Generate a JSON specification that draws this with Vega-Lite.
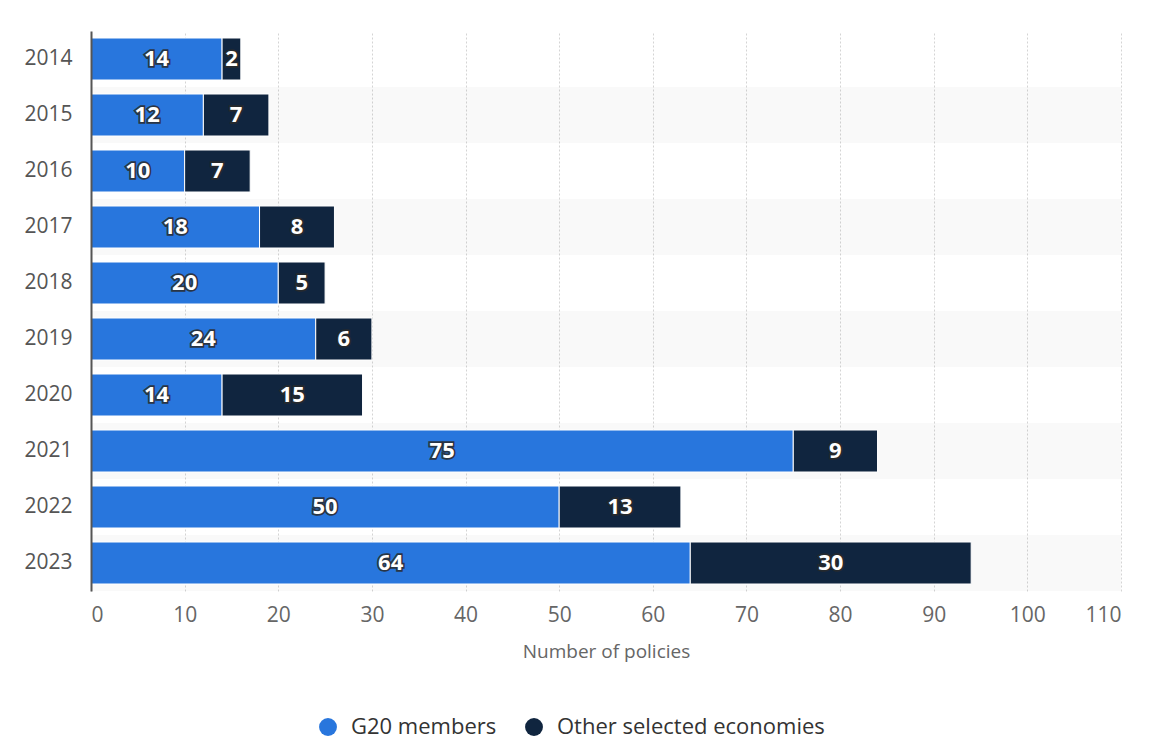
{
  "$schema": "https://vega.github.io/schema/vega-lite/v6.json",
  "width": 1030,
  "height": 560,
  "padding": {"left": 23, "top": 31, "right": 10, "bottom": 6},
  "background": "white",
  "config": {
    "font": "Open Sans",
    "view": {"stroke": null},
    "axis": {"labelColor": "#666", "labelFont": "Open Sans", "titleFont": "Open Sans"}
  },
  "datasets": {
    "policies": [
      {"year": "2014", "group": "G20 members", "ord": 1, "value": 14},
      {"year": "2014", "group": "Other selected economies", "ord": 2, "value": 2},
      {"year": "2015", "group": "G20 members", "ord": 1, "value": 12},
      {"year": "2015", "group": "Other selected economies", "ord": 2, "value": 7},
      {"year": "2016", "group": "G20 members", "ord": 1, "value": 10},
      {"year": "2016", "group": "Other selected economies", "ord": 2, "value": 7},
      {"year": "2017", "group": "G20 members", "ord": 1, "value": 18},
      {"year": "2017", "group": "Other selected economies", "ord": 2, "value": 8},
      {"year": "2018", "group": "G20 members", "ord": 1, "value": 20},
      {"year": "2018", "group": "Other selected economies", "ord": 2, "value": 5},
      {"year": "2019", "group": "G20 members", "ord": 1, "value": 24},
      {"year": "2019", "group": "Other selected economies", "ord": 2, "value": 6},
      {"year": "2020", "group": "G20 members", "ord": 1, "value": 14},
      {"year": "2020", "group": "Other selected economies", "ord": 2, "value": 15},
      {"year": "2021", "group": "G20 members", "ord": 1, "value": 75},
      {"year": "2021", "group": "Other selected economies", "ord": 2, "value": 9},
      {"year": "2022", "group": "G20 members", "ord": 1, "value": 50},
      {"year": "2022", "group": "Other selected economies", "ord": 2, "value": 13},
      {"year": "2023", "group": "G20 members", "ord": 1, "value": 64},
      {"year": "2023", "group": "Other selected economies", "ord": 2, "value": 30}
    ],
    "bands": [
      {"year": "2015"}, {"year": "2017"}, {"year": "2019"}, {"year": "2021"}, {"year": "2023"}
    ]
  },
  "encoding": {
    "y": {
      "field": "year",
      "type": "nominal",
      "sort": null,
      "scale": {"domain": ["2014","2015","2016","2017","2018","2019","2020","2021","2022","2023"], "paddingInner": 0, "paddingOuter": 0},
      "axis": {
        "title": null,
        "ticks": false,
        "labelPadding": 19,
        "labelFontSize": 21,
        "labelColor": "#555",
        "domain": true,
        "domainColor": "#555",
        "domainWidth": 2,
        "zindex": 1
      }
    }
  },
  "layer": [
    {
      "data": {"name": "bands"},
      "mark": {"type": "rect", "fill": "#000", "opacity": 0.025},
      "encoding": {
        "x": {"datum": 0, "type": "quantitative", "scale": {"domain": [0, 110]}},
        "x2": {"datum": 110}
      }
    },
    {
      "data": {"name": "policies"},
      "mark": {"type": "bar", "height": {"band": 0.75}, "stroke": "white", "strokeWidth": 1},
      "encoding": {
        "x": {
          "field": "value",
          "type": "quantitative",
          "stack": "zero",
          "scale": {"domain": [0, 110], "nice": false},
          "axis": {
            "values": [0,10,20,30,40,50,60,70,80,90,100,110],
            "title": "Number of policies",
            "titleFontSize": 19,
            "titleFontWeight": "normal",
            "titleColor": "#666",
            "titlePadding": 17,
            "labelFontSize": 21,
            "labelColor": "#666",
            "labelPadding": 13,
            "ticks": false,
            "domain": false,
            "grid": true,
            "gridColor": "#d4d4d4",
            "gridDash": [2, 2],
            "gridWidth": 1
          }
        },
        "order": {"field": "ord", "type": "quantitative"},
        "color": {
          "field": "group",
          "type": "nominal",
          "scale": {"domain": ["G20 members", "Other selected economies"], "range": ["#2876DD", "#10253F"]},
          "legend": {
            "title": null,
            "orient": "none",
            "legendX": 226,
            "legendY": 685,
            "direction": "horizontal",
            "symbolType": "circle",
            "symbolSize": 320,
            "symbolStrokeWidth": 0,
            "labelFontSize": 22,
            "labelColor": "#333",
            "labelFont": "Open Sans",
            "labelLimit": 400,
            "labelOffset": 12,
            "columnPadding": 26
          }
        }
      }
    },
    {
      "data": {"name": "policies"},
      "transform": [
        {"stack": "value", "groupby": ["year"], "sort": [{"field": "ord"}], "as": ["x0", "x1"]},
        {"calculate": "(datum.x0 + datum.x1) / 2", "as": "mid"}
      ],
      "mark": {"type": "text", "fontSize": 22, "fontWeight": "bold", "stroke": "#2a2a2a", "strokeWidth": 3.5, "strokeOpacity": 0.85, "fill": "#2a2a2a", "baseline": "middle", "align": "center"},
      "encoding": {
        "x": {"field": "mid", "type": "quantitative"},
        "text": {"field": "value", "type": "quantitative"}
      }
    },
    {
      "data": {"name": "policies"},
      "transform": [
        {"stack": "value", "groupby": ["year"], "sort": [{"field": "ord"}], "as": ["x0", "x1"]},
        {"calculate": "(datum.x0 + datum.x1) / 2", "as": "mid"}
      ],
      "mark": {"type": "text", "fontSize": 22, "fontWeight": "bold", "fill": "white", "baseline": "middle", "align": "center"},
      "encoding": {
        "x": {"field": "mid", "type": "quantitative"},
        "text": {"field": "value", "type": "quantitative"}
      }
    }
  ]
}
